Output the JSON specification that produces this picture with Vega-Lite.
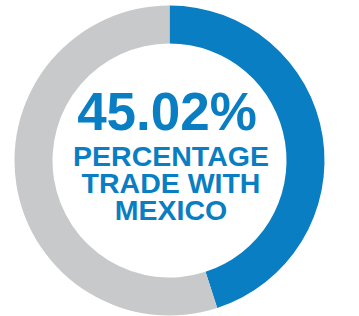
{
  "$schema": "https://vega.github.io/schema/vega-lite/v6.json",
  "width": 359,
  "height": 316,
  "autosize": {"type": "fit", "contains": "padding"},
  "padding": {"left": 0, "right": 20, "top": 5, "bottom": 0},
  "background": "white",
  "view": {"stroke": null},
  "layer": [
    {
      "data": {"values": [
        {"category": "Mexico", "value": 45.02, "idx": 1},
        {"category": "Other", "value": 54.98, "idx": 2}
      ]},
      "mark": {"type": "arc", "innerRadius": 117, "outerRadius": 155},
      "encoding": {
        "theta": {"field": "value", "type": "quantitative", "stack": true},
        "order": {"field": "idx", "type": "quantitative"},
        "color": {"field": "category", "type": "nominal", "legend": null,
          "scale": {"domain": ["Mexico", "Other"], "range": ["#0A7EC2", "#C8C9CB"]}}
      }
    },
    {
      "data": {"values": [{"label": "45.02%"}]},
      "mark": {"type": "text", "font": "Liberation Sans", "fontWeight": "bold", "fontSize": 53, "color": "#0A7EC2", "align": "center", "baseline": "alphabetic", "dy": -30.5, "dx": -2.5},
      "encoding": {"text": {"field": "label", "type": "nominal"}}
    },
    {
      "data": {"values": [{"label": ["PERCENTAGE", "TRADE WITH", "MEXICO"]}]},
      "mark": {"type": "text", "font": "Liberation Sans", "fontWeight": "bold", "fontSize": 28.5, "lineHeight": 27, "color": "#0A7EC2", "align": "center", "baseline": "alphabetic", "dy": 5.5, "dx": 1.5},
      "encoding": {"text": {"field": "label", "type": "nominal"}}
    }
  ]
}
